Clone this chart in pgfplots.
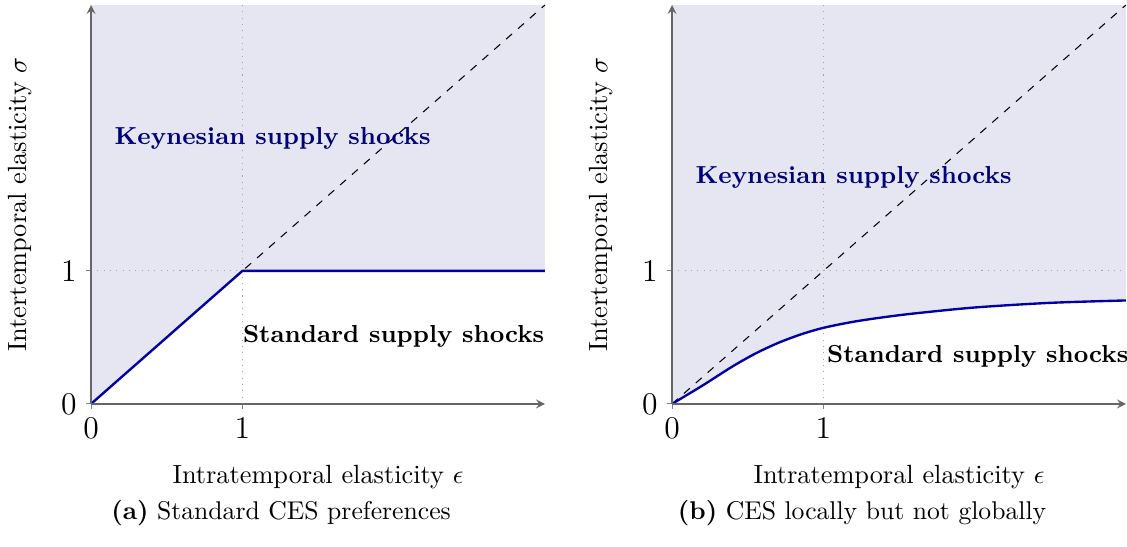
\documentclass[border=0pt]{standalone}
\usepackage{pgfplots}
\pgfplotsset{compat=1.18}
\definecolor{lav}{RGB}{230,230,243}
\definecolor{curvec}{RGB}{0,0,165}
\definecolor{navyt}{RGB}{0,0,120}
\definecolor{gridc}{RGB}{165,165,165}
\pgfplotsset{
  myaxis/.style={
    scale only axis, width=172.5pt, height=151.6pt,
    xmin=0, xmax=3, ymin=0, ymax=3,
    axis lines=left,
    axis line style={black!60, -stealth, line width=0.5pt},
    xtick={0,1}, ytick={0,1},
    tick align=outside, major tick length=2pt,
    tick style={black!50, line width=0.4pt},
    ticklabel style={font=\fontsize{13}{15}\selectfont},
    axis on top, clip=false,
  }
}
\pgfplotstableread{
e s
0 0
0.2 0.137
0.4 0.282
0.55 0.378
0.7 0.458
0.85 0.522
1.0 0.572
1.2 0.618
1.4 0.652
1.6 0.680
2.0 0.725
2.5 0.760
3.0 0.778
}\curveb
\newcommand{\bfs}{\fontsize{9.35}{11}\selectfont\bfseries}
\begin{document}
\begin{tikzpicture}
\useasboundingbox (-34.6pt,-54.3pt) rectangle (393.7pt,153.5pt);
% ---------- panel (a)
\begin{axis}[myaxis, name=L, at={(0pt,0pt)}, anchor=south west]
\addplot[draw=none, fill=lav] coordinates {(0,3) (3,3)} \closedcycle;
\addplot[draw=none, fill=white] coordinates {(0,0) (1,1) (3,1)} \closedcycle;
\addplot[gridc, dotted, thin] coordinates {(1,0) (1,3)};
\addplot[gridc, dotted, thin] coordinates {(0,1) (3,1)};
\addplot[black, dashed, thin] coordinates {(0,0) (3,3)};
\addplot[curvec, line width=0.9pt] coordinates {(0,0) (1,1) (3,1)};
\node[font=\bfs, text=navyt] at (axis cs:1.2,2.0) {Keynesian supply shocks};
\node[font=\bfs] at (axis cs:2.0,0.51) {Standard supply shocks};
\node at ([yshift=-27.7pt]rel axis cs:0.5,0) {Intratemporal elasticity $\epsilon$};
\node[rotate=90] at ([xshift=-27pt]rel axis cs:0,0.5) {Intertemporal elasticity $\sigma$};
\node[font=\fontsize{9.75}{11}\selectfont] at ([yshift=-41.4pt]rel axis cs:0.4186,0) {\textbf{(a)} Standard CES preferences};
\end{axis}
% ---------- panel (b)
\begin{axis}[myaxis, name=R, at={(220.8pt,0pt)}, anchor=south west]
\addplot[draw=none, fill=lav] coordinates {(0,3) (3,3)} \closedcycle;
\addplot[draw=none, fill=white, smooth] table[x=e, y=s] {\curveb} \closedcycle;
\addplot[gridc, dotted, thin] coordinates {(1,0) (1,3)};
\addplot[gridc, dotted, thin] coordinates {(0,1) (3,1)};
\addplot[black, dashed, thin] coordinates {(0,0) (3,3)};
\addplot[curvec, line width=0.9pt, smooth] table[x=e, y=s] {\curveb};
\node[font=\bfs, text=navyt] at (axis cs:1.2,1.70) {Keynesian supply shocks};
\node[font=\bfs] at (axis cs:2.02,0.36) {Standard supply shocks};
\node at ([yshift=-27.7pt]rel axis cs:0.5,0) {Intratemporal elasticity $\epsilon$};
\node[rotate=90] at ([xshift=-27pt]rel axis cs:0,0.5) {Intertemporal elasticity $\sigma$};
\node[font=\fontsize{9.75}{11}\selectfont] at ([yshift=-41.4pt]rel axis cs:0.4186,0) {\textbf{(b)} CES locally but not globally};
\end{axis}
\end{tikzpicture}
\end{document}
